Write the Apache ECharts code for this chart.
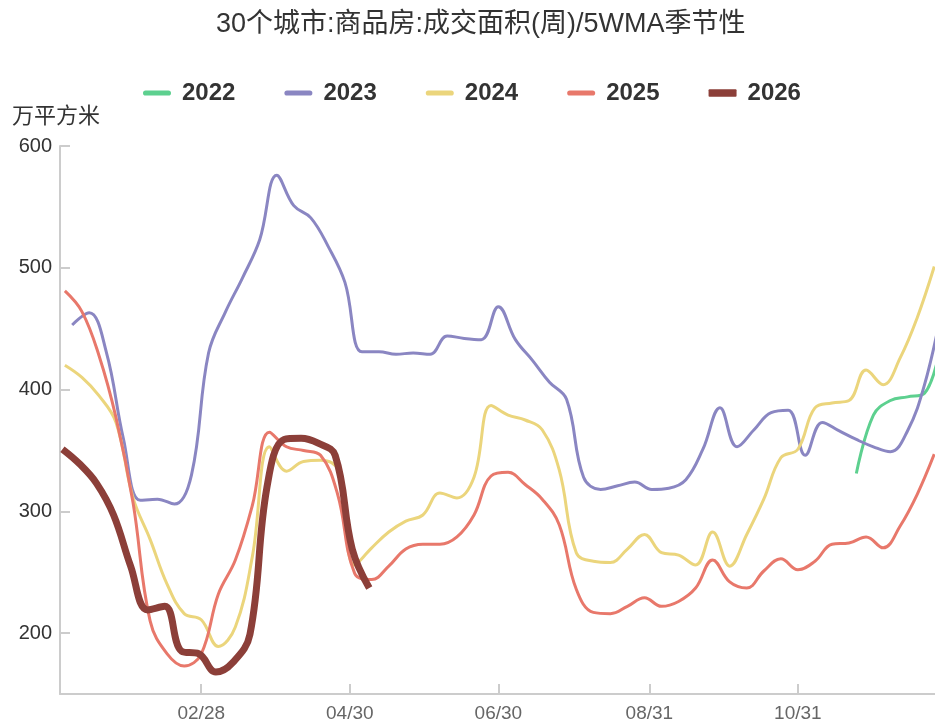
<!DOCTYPE html>
<html>
<head>
<meta charset="utf-8">
<script src="https://cdn.jsdelivr.net/npm/echarts@6/dist/echarts.min.js"></script>
<style>
html,body{margin:0;padding:0;background:#fff;}
#main{width:935px;height:723px;}
</style>
</head>
<body>
<div id="main"></div>
<script>
// ---- data ----
const titleText = '30个城市:商品房:成交面积(周)/5WMA季节性';
const unitName = '万平方米';
const seriesNames = ['2022', '2023', '2024', '2025', '2026'];
const tickLabels = ['02/28', '04/30', '06/30', '08/31', '10/31'];
const yTicks = [200, 300, 400, 500, 600];

// first week-ending date (MM/DD) of each series; points are weekly
const start2022 = '11/24';
const start2023 = '01/06';
const start2024 = '01/03';
const start2025 = '01/03';
const start2026 = '01/02';

const values2022 = [331, 379, 391, 394, 397, 440];
const values2023 = [453, 463, 431, 360, 309, 310, 306, 330, 430, 464, 492, 523, 576, 551, 541, 518, 488, 431, 431, 429, 430, 429, 444, 442, 441, 468, 441, 424, 406, 392, 328, 318, 321, 324, 318, 319, 326, 351, 385, 353, 367, 381, 383, 346, 373, 366, 359, 353, 349, 366, 404, 465];
const values2024 = [420, 410, 395, 373, 311, 277, 240, 216, 211, 189, 205, 263, 353, 333, 341, 342, 334, 256, 270, 283, 292, 297, 315, 311, 328, 387, 379, 375, 367, 334, 266, 259, 258, 269, 281, 266, 264, 256, 283, 255, 281, 310, 344, 351, 385, 389, 391, 416, 404, 426, 459, 501];
const values2025 = [481, 464, 428, 377, 307, 210, 183, 173, 183, 232, 260, 305, 365, 353, 350, 346, 314, 249, 244, 255, 269, 273, 273, 279, 297, 329, 332, 322, 310, 289, 236, 217, 216, 222, 229, 222, 226, 237, 260, 242, 237, 251, 261, 252, 259, 273, 274, 279, 270, 288, 314, 347];
const values2026 = [351, 339, 323, 297, 255, 219, 222, 185, 183, 168, 176, 199, 320, 359, 360, 356, 346, 269, 237];

const colors = ['#5dd08f', '#8a86c2', '#ebd57c', '#e8786b', '#8c3f39'];
const widths = [3, 3, 3, 3, 7];
const thinIcon = 'path://M2.5,0 H24.5 A2.5,2.5 0 0 1 24.5,5 H2.5 A2.5,2.5 0 0 1 2.5,0 Z';
const thickIcon = 'path://M1,0 H29 Q30,0 30,1 V7 Q30,8 29,8 H1 Q0,8 0,7 V1 Q0,0 1,0 Z';

// ---- helpers ----
const monthStart = [0, 31, 59, 90, 120, 151, 181, 212, 243, 273, 304, 334];
function toDay(md) {
  const [m, d] = md.split('/').map(Number);
  return monthStart[m - 1] + d - 1;
}
function weekly(startMD, vals) {
  const s = toDay(startMD);
  return vals.map((v, i) => [s + 7 * i, v]);
}
const allData = [
  weekly(start2022, values2022),
  weekly(start2023, values2023),
  weekly(start2024, values2024),
  weekly(start2025, values2025),
  weekly(start2026, values2026)
];
const tickDays = tickLabels.map(toDay);
const labelOf = {};
tickDays.forEach((d, i) => { labelOf[d] = tickLabels[i]; });

const chart = echarts.init(document.getElementById('main'), null, {renderer: 'canvas'});
chart.setOption({
  animation: false,
  backgroundColor: '#fff',
  title: {
    text: titleText,
    left: 211,
    top: 6,
    textStyle: {fontSize: 27, fontWeight: 'normal', color: '#333', fontFamily: 'Liberation Sans, Noto Sans CJK SC, sans-serif'}
  },
  legend: {
    data: seriesNames.map((n, i) => ({name: n, icon: i === 4 ? thickIcon : thinIcon})),
    top: 76,
    left: 138,
    itemWidth: 28,
    itemHeight: 14,
    itemGap: 49,
    symbolKeepAspect: true,
    textStyle: {fontSize: 24, fontWeight: 'bold', color: '#333', padding: [0, 0, 0, 6], fontFamily: 'Liberation Sans, sans-serif'}
  },
  grid: {left: 60, right: 0, top: 146, bottom: 29},
  xAxis: {
    type: 'value',
    min: 0,
    max: 359.3,
    splitLine: {show: false},
    axisLine: {lineStyle: {color: '#ccc', width: 2}},
    axisTick: {show: true, inside: true, length: 10, customValues: tickDays, lineStyle: {color: '#ccc', width: 2}},
    axisLabel: {
      customValues: tickDays,
      formatter: v => labelOf[v] || '',
      fontSize: 19, color: '#666', margin: 10,
      fontFamily: 'Liberation Sans, sans-serif'
    }
  },
  yAxis: {
    type: 'value',
    min: 150,
    max: 600,
    name: unitName,
    nameLocation: 'end',
    nameGap: 20,
    nameTextStyle: {fontSize: 22, color: '#333', align: 'center', padding: [0, 8, 0, 0], fontFamily: 'Noto Sans CJK SC, sans-serif'},
    splitLine: {show: false},
    axisLine: {show: true, lineStyle: {color: '#ccc', width: 2}},
    axisTick: {show: true, inside: true, length: 10, customValues: yTicks, lineStyle: {color: '#ccc', width: 2}},
    axisLabel: {customValues: yTicks, fontSize: 20, color: '#333', margin: 8, fontFamily: 'Liberation Sans, sans-serif'}
  },
  series: seriesNames.map((name, i) => ({
    name: name,
    type: 'line',
    data: allData[i],
    smooth: 0.4,
    symbol: 'none',
    color: colors[i],
    lineStyle: {width: widths[i], color: colors[i]},
    z: i === 4 ? 5 : 2
  }))
});
</script>
</body>
</html>
